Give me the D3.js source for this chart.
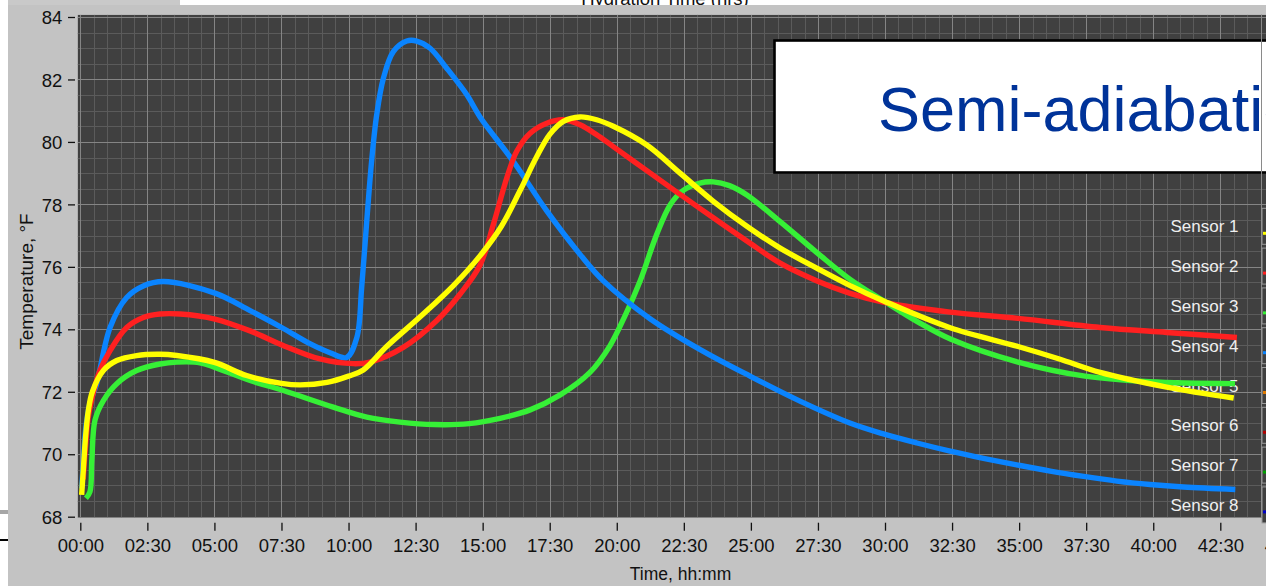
<!DOCTYPE html>
<html>
<head>
<meta charset="utf-8">
<script src="https://cdn.jsdelivr.net/npm/d3@7"></script>
<style>
  html, body { margin: 0; padding: 0; background: #ffffff; overflow: hidden; }
  svg { display: block; }
  text { font-family: "Liberation Sans", Arial, sans-serif; }
</style>
</head>
<body>
<svg id="chart" width="1266" height="586"></svg>
<script>
// ---- data: elapsed hours vs. temperature (°F) ----
const timeTicks = [0, 2.5, 5, 7.5, 10, 12.5, 15, 17.5, 20, 22.5, 25, 27.5, 30, 32.5, 35, 37.5, 40, 42.5, 45];
const timeTickLabels = ["00:00", "02:30", "05:00", "07:30", "10:00", "12:30", "15:00", "17:30", "20:00",
  "22:30", "25:00", "27:30", "30:00", "32:30", "35:00", "37:30", "40:00", "42:30", "45:00"];
const tempTicks = [68, 70, 72, 74, 76, 78, 80, 82, 84];

const sensor1 = [ // yellow
  [0.05, 68.7], [0.12, 69.6], [0.2, 70.6], [0.3, 71.4], [0.45, 72.0], [0.86, 72.68], [1.36, 73.0],
  [2.1, 73.16], [2.97, 73.2], [3.6, 73.16], [5.0, 72.94], [6.2, 72.52], [7.5, 72.27], [8.2, 72.22],
  [9.2, 72.3], [10.0, 72.5], [10.55, 72.7], [11.42, 73.45], [12.67, 74.4], [13.91, 75.4],
  [14.9, 76.35], [15.7, 77.3], [16.4, 78.45], [17.0, 79.5], [17.51, 80.25], [18.01, 80.66],
  [18.63, 80.8], [19.25, 80.71], [19.87, 80.5], [21.12, 79.9], [22.36, 79.0], [23.6, 78.1],
  [24.85, 77.3], [26.09, 76.6], [27.47, 75.95], [28.7, 75.4], [29.97, 74.9], [32.43, 74.05],
  [34.96, 73.45], [36.5, 73.05], [38.02, 72.62], [40.5, 72.15], [43.0, 71.8]
];
const sensor2 = [ // red
  [0.11, 69.2], [0.2, 70.3], [0.3, 71.2], [0.48, 71.94], [0.73, 72.68], [1.11, 73.32], [1.73, 74.06],
  [2.35, 74.38], [2.97, 74.49], [3.72, 74.49], [5.02, 74.33], [6.33, 73.95], [7.52, 73.5], [8.94, 73.05],
  [10.18, 72.9], [10.8, 72.95], [12.04, 73.42], [13.29, 74.28], [14.16, 75.13], [14.9, 76.05],
  [15.4, 77.36], [15.9, 78.85], [16.27, 79.7], [16.77, 80.28], [17.39, 80.6], [18.01, 80.71],
  [18.63, 80.55], [19.25, 80.23], [19.87, 79.85], [21.12, 79.08], [22.36, 78.32], [23.6, 77.57],
  [24.85, 76.83], [26.09, 76.12], [27.47, 75.55], [28.7, 75.15], [29.97, 74.86], [32.43, 74.55],
  [34.96, 74.35], [38.02, 74.06], [40.5, 73.9], [43.12, 73.74]
];
const sensor3 = [ // green
  [0.21, 68.59], [0.36, 68.8], [0.43, 69.8], [0.55, 71.1], [0.86, 71.72], [1.36, 72.26], [2.1, 72.68],
  [2.97, 72.89], [3.6, 72.95], [4.46, 72.93], [5.02, 72.78], [6.33, 72.36], [7.57, 72.04], [9.43, 71.51],
  [10.68, 71.19], [11.92, 71.03], [13.2, 70.95], [14.5, 70.98], [15.65, 71.15], [16.77, 71.42],
  [17.89, 71.9], [19.0, 72.62], [19.75, 73.48], [20.31, 74.44], [20.87, 75.55], [21.49, 77.04],
  [22.0, 78.0], [22.48, 78.45], [23.1, 78.68], [23.6, 78.72], [24.2, 78.6], [24.85, 78.3],
  [26.09, 77.45], [27.47, 76.45], [28.7, 75.6], [29.97, 74.9], [31.3, 74.2], [32.46, 73.68],
  [34.96, 72.95], [37.46, 72.5], [39.88, 72.32], [43.05, 72.26]
];
const sensor4 = [ // blue
  [0.05, 68.9], [0.12, 69.8], [0.2, 70.8], [0.35, 71.6], [0.61, 72.26], [1.11, 74.06], [1.73, 75.02],
  [2.35, 75.39], [3.1, 75.53], [5.02, 75.16], [6.33, 74.6], [7.52, 74.05], [8.56, 73.54], [9.31, 73.25],
  [9.93, 73.1], [10.31, 73.74], [10.49, 75.34], [10.68, 77.47], [10.86, 79.38], [11.05, 80.87],
  [11.3, 82.04], [11.67, 82.89], [12.17, 83.23], [12.54, 83.23], [13.04, 83.0], [13.66, 82.36],
  [14.41, 81.51], [14.9, 80.8], [16.14, 79.38], [17.39, 77.79], [18.63, 76.4], [19.5, 75.55],
  [21.24, 74.34], [23.11, 73.35], [24.97, 72.5], [26.83, 71.7], [28.69, 71.0], [29.94, 70.65],
  [31.19, 70.36], [32.43, 70.1], [33.67, 69.87], [34.91, 69.66], [36.16, 69.46], [37.4, 69.29],
  [38.64, 69.14], [39.88, 69.03], [41.13, 68.95], [43.06, 68.87]
];

const legendNames = ["Sensor 1", "Sensor 2", "Sensor 3", "Sensor 4", "Sensor 5", "Sensor 6", "Sensor 7", "Sensor 8"];
const legendColors = ["#ffff00", "#ff2020", "#36f036", "#0a84ff", "#e07a00", "#b00000", "#00a000", "#0000c8"];

// ---- layout ----
const svg = d3.select("#chart");
const W = 1266, H = 586;
const x = d3.scaleLinear().domain([0, 42.5]).range([80.3, 1220.3]);
const y = d3.scaleLinear().domain([68, 84]).range([516.7, 17]);
const plot = { left: x(-0.1), top: 14.7, right: W + 20, bottom: 517.7 };

// page + panel backgrounds
svg.append("rect").attr("width", W).attr("height", H).attr("fill", "#ffffff");
svg.append("text").attr("x", 665).attr("y", 5).attr("text-anchor", "middle")
  .attr("font-size", 18.5).attr("fill", "#111").text("Hydration Time (hrs)");
svg.append("rect").attr("x", 8).attr("y", 0).attr("width", 172).attr("height", 5).attr("fill", "#c9c9c9");
svg.append("rect").attr("x", 8).attr("y", 5).attr("width", W - 8).attr("height", H - 5).attr("fill", "#c3c3c3");
svg.append("rect").attr("x", 0).attr("y", 510).attr("width", 8).attr("height", 4).attr("fill", "#a6a6a6");
svg.append("rect").attr("x", 0).attr("y", 539).attr("width", 8).attr("height", 2).attr("fill", "#000");

// plot area
svg.append("defs").append("clipPath").attr("id", "plotClip")
  .append("rect").attr("x", plot.left).attr("y", plot.top)
  .attr("width", plot.right - plot.left).attr("height", plot.bottom - plot.top);

const pg = svg.append("g").attr("clip-path", "url(#plotClip)");
pg.append("rect").attr("x", plot.left).attr("y", plot.top)
  .attr("width", plot.right - plot.left).attr("height", plot.bottom - plot.top).attr("fill", "#404040");

// grid: minor every 0.5 h / 0.5 °F, major every 2.5 h / 2 °F
const vLines = d3.range(0, 47, 0.5);
const hLines = d3.range(68, 84.01, 0.5);
const isMajorT = v => Math.abs(v / 2.5 - Math.round(v / 2.5)) < 1e-6;
const isMajorY = v => Math.abs(v / 2 - Math.round(v / 2)) < 1e-6;
pg.append("g").selectAll("line").data(vLines.filter(v => !isMajorT(v))).join("line")
  .attr("x1", d => Math.round(x(d)) + 0.5).attr("x2", d => Math.round(x(d)) + 0.5)
  .attr("y1", plot.top).attr("y2", plot.bottom).attr("stroke", "#5b5b5b").attr("stroke-width", 1);
pg.append("g").selectAll("line").data(hLines.filter(v => !isMajorY(v))).join("line")
  .attr("y1", d => Math.round(y(d)) + 0.5).attr("y2", d => Math.round(y(d)) + 0.5)
  .attr("x1", plot.left).attr("x2", plot.right).attr("stroke", "#5b5b5b").attr("stroke-width", 1);
pg.append("g").selectAll("line").data(vLines.filter(isMajorT)).join("line")
  .attr("x1", d => Math.round(x(d)) + 0.5).attr("x2", d => Math.round(x(d)) + 0.5)
  .attr("y1", plot.top).attr("y2", plot.bottom).attr("stroke", "#858585").attr("stroke-width", 1);
pg.append("g").selectAll("line").data(hLines.filter(isMajorY)).join("line")
  .attr("y1", d => Math.round(y(d)) + 0.5).attr("y2", d => Math.round(y(d)) + 0.5)
  .attr("x1", plot.left).attr("x2", plot.right).attr("stroke", "#858585").attr("stroke-width", 1);

// title box inside the plot
pg.append("rect").attr("x", 774.5).attr("y", 40.5).attr("width", 600).attr("height", 132)
  .attr("fill", "#ffffff").attr("stroke", "#000").attr("stroke-width", 2.6);
pg.append("text").attr("x", 878).attr("y", 130.5).attr("font-size", 63)
  .attr("fill", "#003399").text("Semi-adiabatic");

// legend labels (transparent, over the grid)
const legendY = i => 232.3 + i * 39.8;
pg.append("g").selectAll("text").data(legendNames).join("text")
  .attr("x", 1238.5).attr("y", (d, i) => legendY(i)).attr("text-anchor", "end")
  .attr("font-size", 17).attr("fill", "#efefef").text(d => d);

// sensor traces
const line = d3.line().x(d => x(d[0])).y(d => y(d[1])).curve(d3.curveCatmullRom.alpha(0.5));
const traces = [
  { data: sensor3, color: legendColors[2] },
  { data: sensor4, color: legendColors[3] },
  { data: sensor2, color: legendColors[1] },
  { data: sensor1, color: legendColors[0] }
];
pg.append("g").selectAll("path").data(traces).join("path")
  .attr("d", d => line(d.data)).attr("fill", "none").attr("stroke", d => d.color)
  .attr("stroke-width", 5.4).attr("stroke-linejoin", "round");

// legend swatch column at the right edge
const sw = svg.append("g");
sw.append("line").attr("x1", 1261.5).attr("x2", 1261.5).attr("y1", plot.top).attr("y2", plot.bottom)
  .attr("stroke", "#8a8a8a");
legendNames.forEach((n, i) => {
  const cy = legendY(i) - 6;
  sw.append("rect").attr("x", 1262).attr("y", cy - 18).attr("width", 10).attr("height", 36)
    .attr("fill", "#404040").attr("stroke", "#9a9a9a").attr("stroke-width", 1);
  sw.append("line").attr("x1", 1263).attr("x2", 1270).attr("y1", cy + 7).attr("y2", cy + 7)
    .attr("stroke", legendColors[i]).attr("stroke-width", 3);
});

// axes
const xAxis = d3.axisBottom(x).tickValues(timeTicks)
  .tickFormat((d, i) => timeTickLabels[i]).tickSize(8).tickSizeOuter(0);
const gx = svg.append("g").attr("transform", "translate(0,522.7)").call(xAxis);
gx.select(".domain").remove();
gx.selectAll(".tick line").attr("stroke", "#111").attr("stroke-width", 1.3);
gx.selectAll(".tick text").attr("y", 29.6).attr("dy", null)
  .attr("font-size", 18.5).attr("font-family", "Liberation Sans, Arial, sans-serif").attr("fill", "#111");

const yAxis = d3.axisLeft(y).tickValues(tempTicks).tickSize(7).tickSizeOuter(0);
const gy = svg.append("g").attr("transform", "translate(75,0)").call(yAxis);
gy.select(".domain").remove();
gy.selectAll(".tick line").attr("stroke", "#111").attr("stroke-width", 1.3);
gy.selectAll(".tick text").attr("x", -12.7).attr("dy", "0.36em")
  .attr("font-size", 18.5).attr("font-family", "Liberation Sans, Arial, sans-serif").attr("fill", "#111");

// axis titles
svg.append("text").attr("x", 680.5).attr("y", 580).attr("text-anchor", "middle")
  .attr("font-size", 17.5).attr("fill", "#111").text("Time, hh:mm");
svg.append("text").attr("transform", "translate(33,281.5) rotate(-90)").attr("text-anchor", "middle")
  .attr("font-size", 19).attr("fill", "#111").text("Temperature, °F");
</script>
</body>
</html>
